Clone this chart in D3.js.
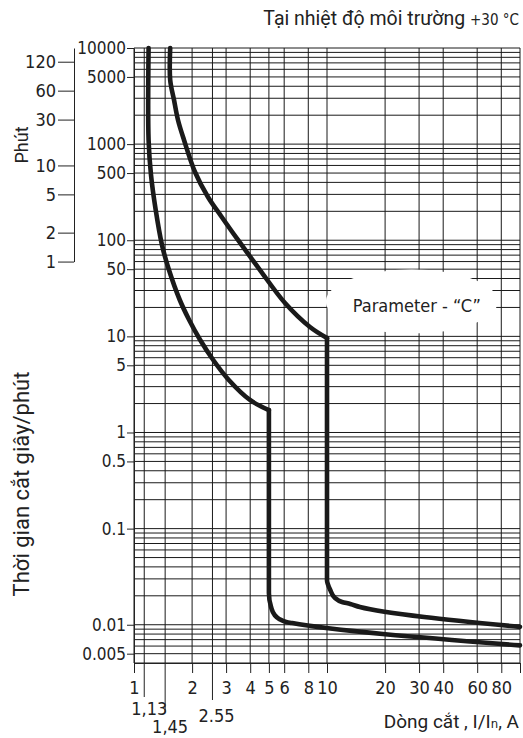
<!DOCTYPE html>
<html>
<head>
<meta charset="utf-8">
<script src="https://cdn.jsdelivr.net/npm/d3@7"></script>
<style>
    body { margin: 0; background: #fff; }
    svg { display: block; }
    .narrow { font-family: "Liberation Sans Narrow", "DejaVu Sans Condensed", "Arial Narrow", sans-serif; }
    .hum { font-family: Roboto, "Noto Sans", sans-serif; }
</style>
</head>
<body>
<div id="chart"></div>
<script>
// Tick values
const xTicks = [1, 2, 3, 4, 5, 6, 8, 10, 20, 30, 40, 60, 80, 100];
const xSpecial = [1.13, 1.45, 2.55];
const xSpecialLabels = ['1,13', '1,45', '2.55'];
const xGrid = [1, 1.13, 1.45, 2, 2.55, 3, 4, 5, 6, 8, 10, 20, 30, 40, 60, 80, 100];
const yTicks = [0.005, 0.01, 0.1, 0.5, 1, 5, 10, 50, 100, 500, 1000, 5000, 10000];
const minuteTicks = [1, 2, 5, 10, 30, 60, 120];

// Tripping curves [I/In, seconds]
const curveLow = [
    [1.19, 10000], [1.19, 1104], [1.225, 478], [1.296, 206], [1.397, 89], [1.518, 49],
    [1.727, 23.9], [1.932, 14.8], [2.203, 9.16], [2.573, 5.68], [3.099, 3.52], [3.99, 2.18],
    [5, 1.71], [5, 0.0214], [5.13, 0.0153], [5.36, 0.0126], [5.65, 0.0115],
    [6.15, 0.0107], [6.6, 0.0104], [100, 0.0061]
];
const curveHigh = [
    [1.54, 10000], [1.54, 4650], [1.612, 2877], [1.69, 1782], [1.816, 1104], [2.07, 513],
    [2.417, 282], [2.824, 179], [3.458, 100.7], [4.497, 49], [6.06, 22.2], [8.16, 12.5],
    [10, 9.6], [10, 0.0292], [10.4, 0.023], [11.0, 0.019], [11.96, 0.01725], [13.2, 0.01644],
    [14.8, 0.0153], [100, 0.0095]
];
const paramLabel = { x: 27.5, y: 23, text: 'Parameter - “C”' };

const W = 523, H = 738;
const margin = { top: 48, right: 3, bottom: 75, left: 134 };

const svg = d3.select('#chart').append('svg')
    .attr('width', W)
    .attr('height', H);

const x = d3.scaleLog().domain([1, 100]).range([margin.left, W - margin.right]);
const y = d3.scaleLog().domain([0.004, 10000]).range([H - margin.bottom, margin.top]);

// Horizontal grid: every 1..9 step of each decade
const yGrid = [];
for (let e = -3; e <= 4; e++) {
    for (let k = 1; k <= 9; k++) {
        const v = +(k * Math.pow(10, e)).toPrecision(3);
        if (v >= 0.004 && v <= 10000) yGrid.push(v);
    }
}

const grid = svg.append('g').attr('stroke', '#1a1a1a').attr('stroke-width', 1);
grid.selectAll('.hg').data(yGrid).enter().append('line')
    .attr('x1', x(1)).attr('x2', x(100))
    .attr('y1', d => y(d)).attr('y2', d => y(d));
grid.selectAll('.vg').data(xGrid).enter().append('line')
    .attr('x1', d => x(d)).attr('x2', d => x(d))
    .attr('y1', y(10000)).attr('y2', y(0.004));

// White patch behind the parameter label
svg.append('ellipse')
    .attr('cx', x(paramLabel.x))
    .attr('cy', y(paramLabel.y))
    .attr('rx', 86)
    .attr('ry', 32)
    .attr('fill', '#fff');

svg.append('text')
    .attr('class', 'narrow')
    .attr('x', x(paramLabel.x) + 5)
    .attr('y', y(paramLabel.y) + 10)
    .attr('text-anchor', 'middle')
    .attr('font-size', 18)
    .attr('fill', '#222')
    .text(paramLabel.text);

// Curves: thermal part smooth, split at the sharp corner where the vertical part starts
const thermal = d3.line().x(d => x(d[0])).y(d => y(d[1])).curve(d3.curveCatmullRom.alpha(0.5));
const magnetic = d3.line().x(d => x(d[0])).y(d => y(d[1])).curve(d3.curveMonotoneY);
[curveLow, curveHigh].forEach(c => {
    let k = 2;
    while (k < c.length - 1 && c[k][0] !== c[k + 1][0]) k++;
    [[c.slice(0, k + 1), thermal], [c.slice(k), magnetic]].forEach(([part, gen]) => {
        svg.append('path')
            .datum(part)
            .attr('d', gen)
            .attr('fill', 'none')
            .attr('stroke', '#1a1a1a')
            .attr('stroke-width', 4.6)
            .attr('stroke-linecap', 'round');
    });
});

// Axes
function styleAxis(g, size) {
    g.attr('font-family', null).attr('font-size', null);
    g.selectAll('text').attr('class', 'narrow').attr('font-size', size).attr('fill', '#222');
    g.selectAll('line, path').attr('stroke', '#222');
}

svg.append('g')
    .attr('transform', `translate(${x(1)},0)`)
    .call(d3.axisLeft(y).tickValues(yTicks).tickFormat(d => String(d))
        .tickSize(7).tickSizeOuter(0).tickPadding(1))
    .call(g => styleAxis(g, 17));

svg.append('g')
    .attr('transform', `translate(0,${y(0.004)})`)
    .call(d3.axisBottom(x).tickValues(xTicks).tickFormat(d => d === 100 ? '' : String(d))
        .tickSize(10).tickSizeOuter(0).tickPadding(8))
    .call(g => styleAxis(g, 18));

// Special current ticks with longer lines
const specLen = [34, 49, 37];
const specLabelY = [715, 733, 722];
const specLabelDx = [5, 5, 4];
const spec = svg.append('g');
spec.selectAll('line').data(xSpecial).enter().append('line')
    .attr('x1', d => x(d)).attr('x2', d => x(d))
    .attr('y1', y(0.004)).attr('y2', (d, i) => y(0.004) + specLen[i])
    .attr('stroke', '#222');
spec.selectAll('text').data(xSpecial).enter().append('text')
    .attr('class', 'narrow')
    .attr('x', (d, i) => x(d) + specLabelDx[i])
    .attr('y', (d, i) => specLabelY[i])
    .attr('text-anchor', 'middle')
    .attr('font-size', 18)
    .attr('fill', '#222')
    .text((d, i) => xSpecialLabels[i]);

// Minutes axis
const m = d3.scaleLog().domain([1, 10000 / 60]).range([y(60), y(10000)]);
svg.append('g')
    .attr('transform', 'translate(74,0)')
    .call(d3.axisLeft(m).tickValues(minuteTicks).tickFormat(d => String(d))
        .tickSize(16).tickSizeOuter(0).tickPadding(2))
    .call(g => styleAxis(g, 18));

// Axis titles
svg.append('text')
    .attr('class', 'hum')
    .attr('transform', 'translate(28,145) rotate(-90)')
    .attr('text-anchor', 'middle')
    .attr('font-size', 18)
    .attr('fill', '#222')
    .text('Phút');

svg.append('text')
    .attr('class', 'hum')
    .attr('transform', 'translate(29,484) rotate(-90)')
    .attr('text-anchor', 'middle')
    .attr('font-size', 22)
    .attr('fill', '#222')
    .text('Thời gian cắt giây/phút');

const title = svg.append('text')
    .attr('x', 519).attr('y', 25)
    .attr('text-anchor', 'end')
    .attr('fill', '#222');
title.append('tspan').attr('class', 'hum').attr('font-size', 19.5).text('Tại nhiệt độ môi trường ');
title.append('tspan').attr('class', 'narrow').attr('font-size', 15).text('+30 °C');

const xTitle = svg.append('text')
    .attr('x', 519).attr('y', 728)
    .attr('text-anchor', 'end')
    .attr('fill', '#222');
xTitle.append('tspan').attr('class', 'hum').attr('font-size', 19).text('Dòng cắt , I/I');
xTitle.append('tspan').attr('class', 'narrow').attr('font-size', 13).text('n');
xTitle.append('tspan').attr('class', 'hum').attr('font-size', 19).text(', A');
</script>
</body>
</html>
